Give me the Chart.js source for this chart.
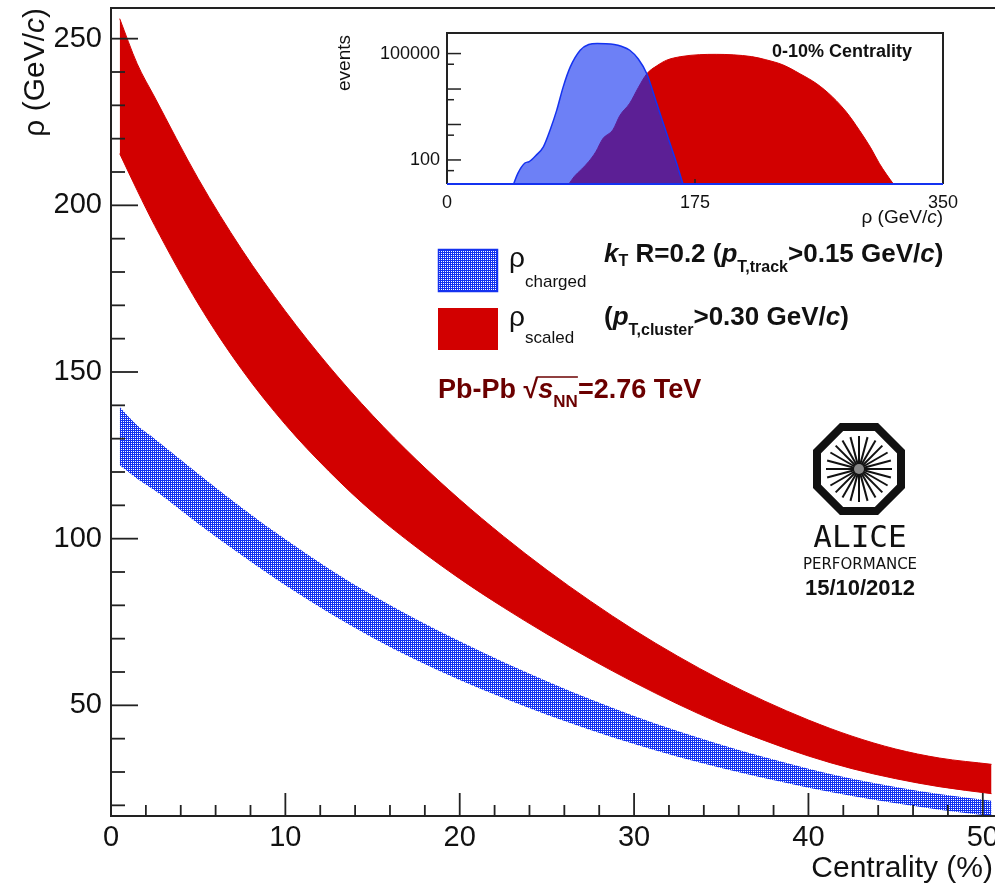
<!DOCTYPE html>
<html>
<head>
<meta charset="utf-8">
<script src="https://cdn.jsdelivr.net/npm/chart.js@4.4.1/dist/chart.umd.min.js"></script>
<style>
  html, body { margin: 0; padding: 0; background: #fff; overflow: hidden; }
  #wrap { position: relative; width: 995px; height: 886px; }
  #wrap canvas { position: absolute; left: 0; top: 0; }
</style>
</head>
<body>
<div id="wrap">
  <canvas id="main-chart" width="995" height="886"></canvas>
  <canvas id="inset-chart" width="995" height="886"></canvas>
</div>
<script>
// main panel: rho band edges vs centrality (%)
const centrality = [0.5, 1.5, 2.5, 5, 7.5, 10, 12.5, 15, 17.5, 20, 22.5, 25, 27.5, 30, 32.5, 35, 37.5, 40, 42.5, 45, 47.5, 50.5];
const rhoScaledHigh = [256, 242.5, 232.5, 208, 186.75, 168.25, 151.75, 137, 123.75, 111.75, 100.75, 90.6, 81.25, 72.6, 64.75, 57.6, 51.25, 45.6, 40.75, 36.9, 34.2, 32.3];
const rhoScaledLow = [215.5, 204.5, 194, 170.5, 150.75, 134.25, 120.25, 108, 97.5, 88, 79.4, 71.4, 63.9, 56.9, 50.4, 44.5, 39.4, 34.8, 31, 28, 25.6, 23.5];
const rhoChargedHigh = [139.5, 134, 130, 119.5, 109.3, 99.8, 91, 83, 75.8, 69.2, 63, 57.2, 51.8, 46.8, 42.3, 38.2, 34.4, 31, 28, 25.5, 23.4, 21.4];
const rhoChargedLow = [122, 118, 114.5, 104.5, 95, 86, 77.8, 70.3, 63.6, 57.6, 52.2, 47.2, 42.6, 38.4, 34.6, 31.2, 28.1, 25.3, 22.8, 20.6, 18.7, 16.8];
const rhoTicks = [50, 100, 150, 200, 250];
const centralityTicks = [0, 10, 20, 30, 40, 50];

// inset: rho distributions in 0-10% centrality (log scale)
const chargedRho = [47, 50, 55, 58, 63, 68, 72.7, 77.4, 82, 87, 94, 100, 106, 112, 118, 123, 129, 135, 141, 148, 155, 162, 166.5];
const chargedEvents = [21, 42, 82, 90, 137, 235, 690, 2500, 11500, 42000, 124000, 180000, 192000, 190000, 180000, 160000, 124000, 70000, 27000, 3900, 560, 81, 21];
const scaledRho = [86, 90, 95, 100, 105, 110, 117, 122, 129, 135, 141, 148, 155, 165, 178, 190, 202, 215, 225, 237, 249, 261, 272, 282, 291, 299, 305, 310, 315];
const scaledEvents = [21, 35, 55, 90, 170, 400, 700, 1800, 4000, 11000, 27000, 45000, 65000, 82000, 93000, 95000, 92000, 82000, 67000, 48000, 27000, 14000, 6000, 2200, 690, 220, 81, 40, 21];
const insetRhoTicks = [0, 175, 350];
const insetEventTicks = [100, 100000];

const RED = "#d20000";
const BLUE = "#1432f0";
const FONT = '"Liberation Sans", Arial, sans-serif';
const F = (size, style) => (style || "") + " " + size + "px " + FONT;

Chart.defaults.font.family = FONT;
Chart.defaults.color = "#111";

const toXY = (xs, ys) => xs.map((x, i) => ({ x: x, y: ys[i] }));

// blue grid with small white holes, like the ROOT fill style
function meshPattern() {
  const c = document.createElement("canvas");
  c.width = 2;
  c.height = 2;
  const g = c.getContext("2d");
  g.fillStyle = "#fff";
  g.fillRect(0, 0, 2, 2);
  g.fillStyle = BLUE;
  g.fillRect(0, 0, 2, 1);
  g.fillRect(0, 1, 1, 1);
  return document.getElementById("main-chart").getContext("2d").createPattern(c, "repeat");
}
const mesh = meshPattern();

// draws pieces of text with different fonts one after another
function richText(ctx, parts, x, y, align) {
  let w = 0;
  parts.forEach((p) => {
    ctx.font = p.font;
    w += ctx.measureText(p.t).width;
  });
  let cx = align === "right" ? x - w : align === "center" ? x - w / 2 : x;
  const pos = [];
  parts.forEach((p) => {
    ctx.font = p.font;
    ctx.fillText(p.t, cx, y + (p.dy || 0));
    const pw = ctx.measureText(p.t).width;
    pos.push([cx, cx + pw]);
    cx += pw;
  });
  return pos;
}

const mainDecor = {
  id: "mainDecor",
  afterDatasetsDraw(chart) {
    const { ctx, chartArea: a, scales } = chart;
    const x = scales.x, y = scales.y;
    ctx.save();
    ctx.strokeStyle = "#222";
    ctx.lineWidth = 2;
    ctx.beginPath();
    ctx.moveTo(a.right, a.top);
    ctx.lineTo(a.left, a.top);
    ctx.lineTo(a.left, a.bottom);
    ctx.lineTo(a.right, a.bottom);
    ctx.stroke();

    ctx.lineWidth = 1.8;
    for (let v = 20; v <= 250; v += 10) {
      const py = y.getPixelForValue(v);
      const len = v % 50 === 0 ? 27 : 14;
      ctx.beginPath();
      ctx.moveTo(a.left, py);
      ctx.lineTo(a.left + len, py);
      ctx.stroke();
    }
    for (let v = 0; v <= 50; v += 2) {
      const px = x.getPixelForValue(v);
      const len = v % 10 === 0 ? 23 : 11;
      ctx.beginPath();
      ctx.moveTo(px, a.bottom);
      ctx.lineTo(px, a.bottom - len);
      ctx.stroke();
    }

    // axis titles
    ctx.fillStyle = "#111";
    ctx.textBaseline = "alphabetic";
    ctx.save();
    ctx.translate(43.5, a.top);
    ctx.rotate(-Math.PI / 2);
    richText(ctx, [
      { t: "ρ (GeV/", font: F(30) },
      { t: "c", font: F(30, "italic") },
      { t: ")", font: F(30) },
    ], 0, 0, "right");
    ctx.restore();
    richText(ctx, [{ t: "Centrality (%)", font: F(30) }], 993, 877, "right");

    // legend boxes
    ctx.fillStyle = mesh;
    ctx.fillRect(438, 249, 60, 43);
    ctx.strokeStyle = BLUE;
    ctx.lineWidth = 1.5;
    ctx.strokeRect(438.5, 249.5, 59, 42);
    ctx.fillStyle = RED;
    ctx.fillRect(438, 308, 60, 42);

    ctx.fillStyle = "#111";
    richText(ctx, [{ t: "ρ", font: F(28) }], 509, 267);
    richText(ctx, [{ t: "charged", font: F(17) }], 525, 287);
    richText(ctx, [{ t: "ρ", font: F(28) }], 509, 326);
    richText(ctx, [{ t: "scaled", font: F(17) }], 525, 343);

    richText(ctx, [
      { t: "k", font: F(26, "italic bold") },
      { t: "T", font: F(16, "bold"), dy: 4 },
      { t: " R=0.2 (", font: F(26, "bold") },
      { t: "p", font: F(26, "italic bold") },
      { t: "T,track", font: F(16, "bold"), dy: 10 },
      { t: ">0.15 GeV/", font: F(26, "bold") },
      { t: "c", font: F(26, "italic bold") },
      { t: ")", font: F(26, "bold") },
    ], 604, 262);
    richText(ctx, [
      { t: "(", font: F(26, "bold") },
      { t: "p", font: F(26, "italic bold") },
      { t: "T,cluster", font: F(16, "bold"), dy: 10 },
      { t: ">0.30 GeV/", font: F(26, "bold") },
      { t: "c", font: F(26, "italic bold") },
      { t: ")", font: F(26, "bold") },
    ], 604, 325);

    ctx.fillStyle = "#6b0000";
    const pos = richText(ctx, [
      { t: "Pb-Pb ", font: F(27, "bold") },
      { t: "√", font: F(27, "bold") },
      { t: "s", font: F(27, "italic bold") },
      { t: "NN", font: F(17, "bold"), dy: 9 },
      { t: "=2.76 TeV", font: F(27, "bold") },
    ], 438, 398);
    ctx.strokeStyle = "#6b0000";
    ctx.lineWidth = 1.5;
    ctx.beginPath();
    ctx.moveTo(pos[1][1] - 1, 377);
    ctx.lineTo(pos[3][1], 377);
    ctx.stroke();

    // ALICE logo
    const cx = 859, cy = 469;
    ctx.strokeStyle = "#111";
    ctx.lineWidth = 8;
    ctx.beginPath();
    const R = 42 / Math.cos(Math.PI / 8);
    for (let k = 0; k < 8; k++) {
      const ang = Math.PI / 8 + (k * Math.PI) / 4;
      const px = cx + R * Math.cos(ang), py = cy + R * Math.sin(ang);
      k === 0 ? ctx.moveTo(px, py) : ctx.lineTo(px, py);
    }
    ctx.closePath();
    ctx.stroke();
    ctx.lineWidth = 2;
    for (let k = 0; k < 24; k++) {
      const ang = (k * Math.PI) / 12;
      ctx.beginPath();
      ctx.moveTo(cx + 4 * Math.cos(ang), cy + 4 * Math.sin(ang));
      ctx.lineTo(cx + 33 * Math.cos(ang), cy + 33 * Math.sin(ang));
      ctx.stroke();
    }
    ctx.fillStyle = "#888";
    ctx.beginPath();
    ctx.arc(cx, cy, 5, 0, Math.PI * 2);
    ctx.fill();
    ctx.fillStyle = "#111";
    ctx.textAlign = "center";
    ctx.font = '31px "DejaVu Sans Mono", monospace';
    ctx.fillText("ALICE", 860, 547);
    ctx.font = '15px "DejaVu Sans", sans-serif';
    ctx.fillText("PERFORMANCE", 860, 569);
    ctx.font = F(22, "bold");
    ctx.fillText("15/10/2012", 860, 595);
    ctx.restore();
  },
};

new Chart(document.getElementById("main-chart"), {
  type: "line",
  data: {
    datasets: [
      {
        data: toXY(centrality, rhoChargedHigh),
        borderColor: "rgba(0,0,0,0)",
        backgroundColor: mesh,
        fill: "+1",
      },
      {
        data: toXY(centrality, rhoChargedLow),
        borderColor: "rgba(0,0,0,0)",
        fill: false,
      },
      {
        data: toXY(centrality, rhoScaledHigh),
        borderColor: RED,
        borderWidth: 1,
        backgroundColor: RED,
        fill: "+1",
      },
      {
        data: toXY(centrality, rhoScaledLow),
        borderColor: RED,
        borderWidth: 1,
        fill: false,
      },
    ],
  },
  options: {
    responsive: false,
    animation: false,
    devicePixelRatio: 1,
    layout: { padding: { top: 8, left: 0, right: 0, bottom: 0 } },
    elements: {
      point: { radius: 0 },
      line: { cubicInterpolationMode: "monotone" },
    },
    scales: {
      x: {
        type: "linear",
        min: 0,
        max: 50.7,
        grid: { display: false, drawTicks: false },
        border: { display: false },
        ticks: { font: { size: 29 }, padding: 5, maxRotation: 0, includeBounds: false },
        afterBuildTicks: (s) => { s.ticks = centralityTicks.map((v) => ({ value: v })); },
        afterFit: (s) => { s.height = 70; s.paddingLeft = 0; s.paddingRight = 0; },
      },
      y: {
        min: 16.8,
        max: 259.2,
        grid: { display: false, drawTicks: false },
        border: { display: false },
        ticks: { font: { size: 29 }, padding: 9, includeBounds: false },
        afterBuildTicks: (s) => { s.ticks = rhoTicks.map((v) => ({ value: v })); },
        afterFit: (s) => { s.width = 111; s.paddingTop = 0; s.paddingBottom = 0; },
      },
    },
    plugins: {
      legend: { display: false },
      tooltip: { enabled: false },
    },
  },
  plugins: [mainDecor],
});

const insetDecor = {
  id: "insetDecor",
  afterDatasetsDraw(chart) {
    const { ctx, chartArea: a, scales } = chart;
    const x = scales.x, y = scales.y;
    ctx.save();
    ctx.strokeStyle = "#222";
    ctx.lineWidth = 2;
    ctx.beginPath();
    ctx.moveTo(a.left, a.bottom);
    ctx.lineTo(a.left, a.top);
    ctx.lineTo(a.right, a.top);
    ctx.lineTo(a.right, a.bottom);
    ctx.stroke();
    ctx.lineWidth = 1.5;
    for (let e = 1; e <= 5; e++) {
      [1, 5].forEach((m) => {
        const v = m * Math.pow(10, e);
        if (v < y.min || v > y.max) return;
        const py = y.getPixelForValue(v);
        const len = m === 1 ? 14 : 7;
        ctx.beginPath();
        ctx.moveTo(a.left, py);
        ctx.lineTo(a.left + len, py);
        ctx.stroke();
      });
    }
    const tx = x.getPixelForValue(175);
    ctx.beginPath();
    ctx.moveTo(tx, a.bottom);
    ctx.lineTo(tx, a.bottom - 5);
    ctx.stroke();
    ctx.strokeStyle = BLUE;
    ctx.lineWidth = 2;
    ctx.beginPath();
    ctx.moveTo(a.left, a.bottom);
    ctx.lineTo(a.right, a.bottom);
    ctx.stroke();

    ctx.fillStyle = "#111";
    richText(ctx, [{ t: "0-10% Centrality", font: F(18, "bold") }], 772, 57);
    richText(ctx, [
      { t: "ρ (GeV/", font: F(19) },
      { t: "c", font: F(19, "italic") },
      { t: ")", font: F(19) },
    ], 943, 223, "right");
    ctx.save();
    ctx.translate(350, 63);
    ctx.rotate(-Math.PI / 2);
    richText(ctx, [{ t: "events", font: F(19) }], 0, 0, "center");
    ctx.restore();
    ctx.restore();
  },
};

new Chart(document.getElementById("inset-chart"), {
  type: "line",
  data: {
    datasets: [
      {
        data: toXY(chargedRho, chargedEvents),
        borderColor: BLUE,
        borderWidth: 1.5,
        backgroundColor: "rgba(20,50,240,0.62)",
        fill: "start",
      },
      {
        data: toXY(scaledRho, scaledEvents),
        borderColor: RED,
        borderWidth: 1,
        backgroundColor: RED,
        fill: "start",
      },
    ],
  },
  options: {
    responsive: false,
    animation: false,
    devicePixelRatio: 1,
    layout: { padding: { top: 33, left: 367, right: 52, bottom: 672 } },
    elements: {
      point: { radius: 0 },
      line: { cubicInterpolationMode: "monotone" },
    },
    scales: {
      x: {
        type: "linear",
        min: 0,
        max: 350,
        grid: { display: false, drawTicks: false },
        border: { display: false },
        ticks: { font: { size: 18 }, padding: 8, maxRotation: 0 },
        afterBuildTicks: (s) => { s.ticks = insetRhoTicks.map((v) => ({ value: v })); },
        afterFit: (s) => { s.height = 30; s.paddingLeft = 0; s.paddingRight = 0; },
      },
      y: {
        type: "logarithmic",
        min: 21,
        max: 380000,
        grid: { display: false, drawTicks: false },
        border: { display: false },
        ticks: { font: { size: 18 }, padding: 7, callback: (v) => String(v) },
        afterBuildTicks: (s) => { s.ticks = insetEventTicks.map((v) => ({ value: v })); },
        afterFit: (s) => { s.width = 80; s.paddingTop = 0; s.paddingBottom = 0; },
      },
    },
    plugins: {
      legend: { display: false },
      tooltip: { enabled: false },
    },
  },
  plugins: [insetDecor],
});
</script>
</body>
</html>
